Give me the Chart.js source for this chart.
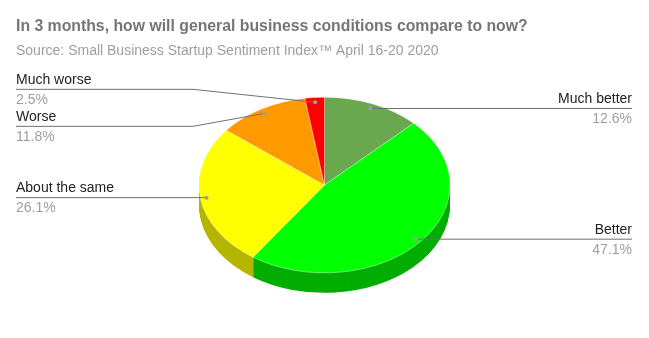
<!DOCTYPE html>
<html>
<head>
<meta charset="utf-8">
<script src="https://cdn.jsdelivr.net/npm/chart.js@4"></script>
<style>
  body { margin: 0; background: #fff; }
</style>
</head>
<body>
<canvas id="myChart" width="649" height="338"></canvas>
<script>
/* datos del grafico */
const labels = ['Much better', 'Better', 'About the same', 'Worse', 'Much worse'];
const values = [12.6, 47.1, 26.1, 11.8, 2.5];
const topColors = ['#6aa84f', '#00ff00', '#ffff00', '#ff9900', '#ff0000'];
const sideColors = ['#4a7637', '#00ad00', '#b5b500', '#b36b00', '#b30000'];

const title = 'In 3 months, how will general business conditions compare to now?';
const subtitle = 'Source: Small Business Startup Sentiment Index\u2122 April 16-20 2020';

const TILT = 0.7;   // aplastamiento vertical de la torta
const DEPTH = 20;   // grosor del borde 3D
const FONT = '"Liberation Sans", Arial, sans-serif';

/* aplica la escala vertical alrededor del centro */
const squash = (ctx, cy) => {
    ctx.translate(0, cy * (1 - TILT));
    ctx.scale(1, TILT);
};

/* reparte las etiquetas de un lado para que no se encimen */
const spread = (items, gap) => {
    items.sort((a, b) => a.want - b.want);
    let groups = items.map(it => ({ list: [it], y: it.want }));
    let merged = true;
    while (merged) {
        merged = false;
        for (let i = 0; i < groups.length - 1; i++) {
            const g1 = groups[i], g2 = groups[i + 1];
            const end1 = g1.y + (g1.list.length - 1) * gap / 2;
            const start2 = g2.y - (g2.list.length - 1) * gap / 2;
            if (start2 - end1 < gap) {
                const list = g1.list.concat(g2.list);
                const y = list.reduce((s, it) => s + it.want, 0) / list.length;
                groups.splice(i, 2, { list, y });
                merged = true;
                break;
            }
        }
    }
    groups.forEach(g => {
        const top = g.y - (g.list.length - 1) * gap / 2;
        g.list.forEach((it, j) => { it.y = top + j * gap; });
    });
};

const pie3d = {
    id: 'pie3d',
    beforeDatasetsDraw(chart) {
        const ctx = chart.ctx;
        const arcs = chart.getDatasetMeta(0).data;
        const cy = arcs[0].y;
        ctx.save();
        /* capas del costado */
        for (let d = DEPTH; d >= 1; d--) {
            ctx.save();
            ctx.translate(0, d);
            squash(ctx, cy);
            arcs.forEach((a, i) => {
                ctx.beginPath();
                ctx.moveTo(a.x, a.y);
                ctx.arc(a.x, a.y, a.outerRadius, a.startAngle, a.endAngle);
                ctx.closePath();
                ctx.fillStyle = sideColors[i];
                ctx.fill();
            });
            ctx.restore();
        }
        squash(ctx, cy);
    },
    afterDatasetsDraw(chart) {
        const ctx = chart.ctx;
        ctx.restore();
        const arcs = chart.getDatasetMeta(0).data;
        const W = chart.width;
        const left = [], right = [];
        arcs.forEach((a, i) => {
            const mid = (a.startAngle + a.endAngle) / 2;
            const r = a.outerRadius * 0.95;
            const px = a.x + r * Math.cos(mid);
            const py = a.y + r * Math.sin(mid) * TILT;
            const item = { i, px, py, want: py, cx: a.x, R: a.outerRadius };
            (Math.cos(mid) >= 0 ? right : left).push(item);
        });
        spread(left, 37);
        spread(right, 37);

        const drawItem = (it, isRight) => {
            const edge = isRight ? W - 17 : 16;
            const elbow = isRight ? it.cx + it.R + 6 : it.cx - it.R - 6;
            ctx.strokeStyle = '#6f6f6f';
            ctx.lineWidth = 1;
            ctx.beginPath();
            ctx.moveTo(edge, it.y + 0.5);
            if (Math.abs(it.y - it.py) > 0.5) {
                ctx.lineTo(elbow, it.y + 0.5);
            }
            ctx.lineTo(it.px, it.py + 0.5);
            ctx.stroke();

            ctx.fillStyle = '#9e9e9e';
            ctx.beginPath();
            ctx.arc(it.px, it.py + 0.5, 2, 0, Math.PI * 2);
            ctx.fill();

            ctx.textAlign = isRight ? 'right' : 'left';
            ctx.textBaseline = 'alphabetic';
            ctx.font = '14px ' + FONT;
            ctx.fillStyle = '#222222';
            ctx.fillText(labels[it.i], edge, it.y - 5);
            ctx.fillStyle = '#9e9e9e';
            ctx.fillText(values[it.i].toFixed(1) + '%', edge, it.y + 15);
        };
        left.forEach(it => drawItem(it, false));
        right.forEach(it => drawItem(it, true));

        /* titulos */
        ctx.textAlign = 'left';
        ctx.font = 'bold 15.8px ' + FONT;
        ctx.fillStyle = '#757575';
        ctx.fillText(title, 16, 31);
        ctx.font = '14px ' + FONT;
        ctx.fillStyle = '#9e9e9e';
        ctx.fillText(subtitle, 16, 55);
    }
};

const ctx = document.getElementById('myChart');

const chart = new Chart(ctx, {
    type: 'pie',
    data: {
        labels: labels,
        datasets: [{
            data: values,
            backgroundColor: topColors,
            borderColor: 'rgba(255,255,255,0.5)',
            borderWidth: 1
        }]
    },
    options: {
        responsive: false,
        animation: false,
        events: [],
        layout: { padding: { top: 59, bottom: 27, left: 0, right: 0 } },
        plugins: {
            legend: { display: false },
            tooltip: { enabled: false },
            title: { display: false }
        }
    },
    plugins: [pie3d]
});
</script>
</body>
</html>
